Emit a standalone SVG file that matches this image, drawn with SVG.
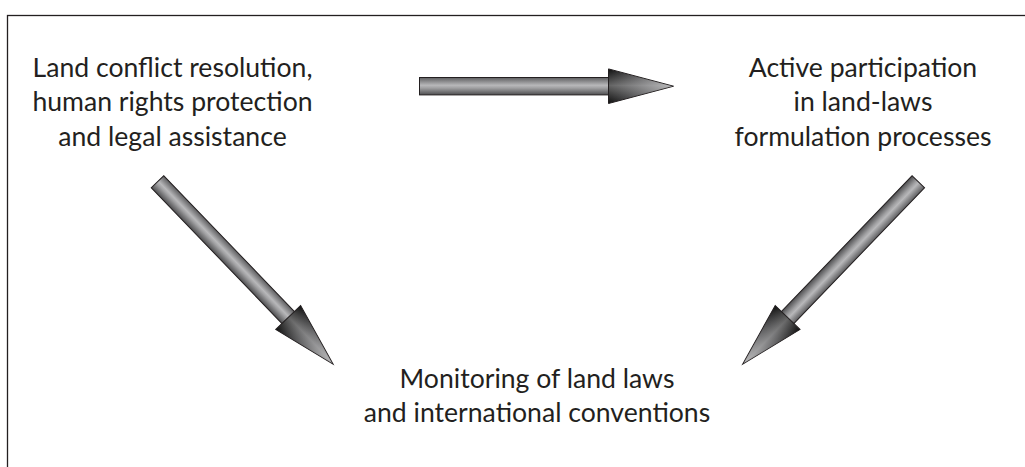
<svg xmlns="http://www.w3.org/2000/svg" width="1025" height="467" viewBox="0 0 1025 467">
<style>
  text { font-family: Lato, "Open Sans", sans-serif; font-size: 26.6px; fill: #231f20; text-anchor: middle; }
  .frame { fill: #ffffff; stroke: #231f20; stroke-width: 1.3; }
  .outline { stroke: #231f20; stroke-width: 1; stroke-linejoin: miter; }
</style>
<defs>
  <linearGradient id="shaftGrad" gradientUnits="userSpaceOnUse" x1="0" y1="-9" x2="0" y2="9">
    <stop offset="0" stop-color="#5a5a5c"/>
    <stop offset="0.45" stop-color="#b8b8ba"/>
    <stop offset="0.6" stop-color="#a0a0a2"/>
    <stop offset="1" stop-color="#4a4a4c"/>
  </linearGradient>
  <linearGradient id="headGrad" gradientUnits="userSpaceOnUse" x1="189" y1="0" x2="254" y2="0">
    <stop offset="0" stop-color="#101010"/>
    <stop offset="0.45" stop-color="#4a4a4c"/>
    <stop offset="1" stop-color="#959597"/>
  </linearGradient>
  <linearGradient id="headShine" gradientUnits="userSpaceOnUse" x1="0" y1="-17" x2="0" y2="17">
    <stop offset="0" stop-color="#ffffff" stop-opacity="0"/>
    <stop offset="0.48" stop-color="#ffffff" stop-opacity="0.35"/>
    <stop offset="1" stop-color="#ffffff" stop-opacity="0"/>
  </linearGradient>
  <g id="arrow">
    <rect class="outline" x="0" y="-8.7" width="190" height="17.4" fill="url(#shaftGrad)"/>
    <path class="outline" d="M189,-17.3 L254,0 L189,17.3 Z" fill="url(#headGrad)"/>
    <path d="M189.5,-16.8 L253,0 L189.5,16.8 Z" fill="url(#headShine)"/>
  </g>
</defs>
<rect class="frame" x="7.5" y="15.5" width="1030" height="470"/>
<g id="connectors">
  <use href="#arrow" transform="translate(419.5,86.2)"/>
  <use href="#arrow" transform="translate(157.5,181.7) rotate(46.1) scale(0.997)"/>
  <use href="#arrow" transform="translate(918.3,181.7) rotate(133.9) scale(0.997)"/>
</g>
<g id="node-land-conflict">
  <text x="172.5" y="76.5">Land conflict resolution,</text>
  <text x="172.5" y="111">human rights protection</text>
  <text x="172.5" y="145.5">and legal assistance</text>
</g>
<g id="node-participation">
  <text x="863" y="76.5">Active participation</text>
  <text x="863" y="111">in land-laws</text>
  <text x="863" y="145.5">formulation processes</text>
</g>
<g id="node-monitoring">
  <text x="537" y="387.5">Monitoring of land laws</text>
  <text x="537" y="421.5">and international conventions</text>
</g>
</svg>
